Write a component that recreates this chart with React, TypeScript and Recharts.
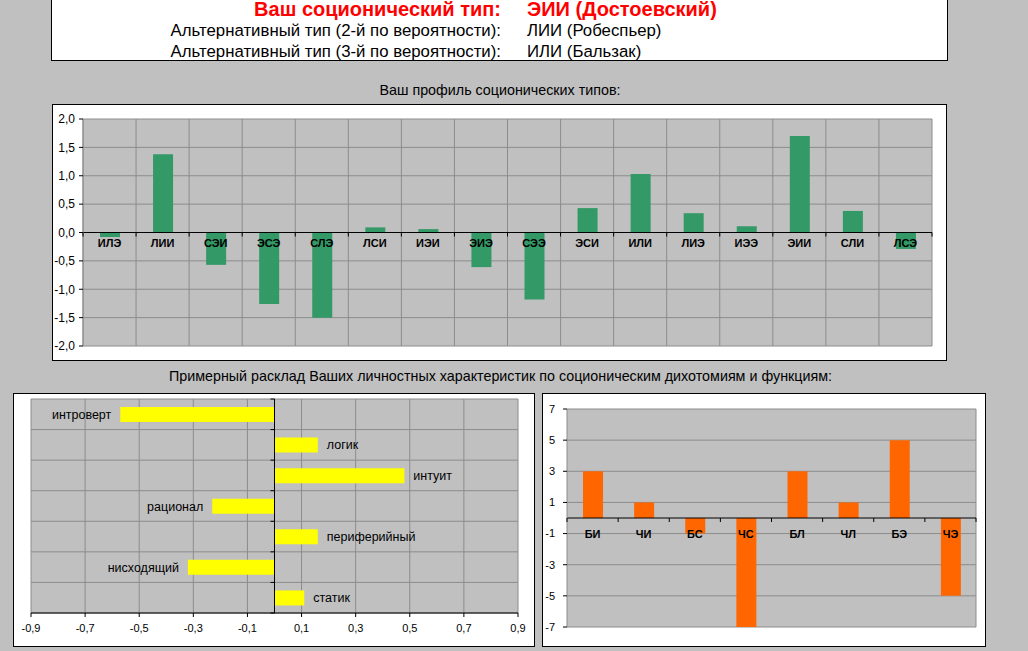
import React from 'react';
import { BarChart, Bar, XAxis, YAxis, CartesianGrid, ReferenceLine, LabelList } from 'recharts';

const FONT = '"Liberation Sans", Arial, sans-serif';

const typeNames = ['ИЛЭ', 'ЛИИ', 'СЭИ', 'ЭСЭ', 'СЛЭ', 'ЛСИ', 'ИЭИ', 'ЭИЭ', 'СЭЭ', 'ЭСИ', 'ИЛИ', 'ЛИЭ', 'ИЭЭ', 'ЭИИ', 'СЛИ', 'ЛСЭ'];
const typeScores = [-0.08, 1.38, -0.57, -1.26, -1.5, 0.09, 0.06, -0.61, -1.18, 0.43, 1.03, 0.34, 0.11, 1.7, 0.38, -0.29];
const profileTicks = [-2, -1.5, -1, -0.5, 0, 0.5, 1, 1.5, 2];

const traitNames = ['интроверт', 'логик', 'интуит', 'рационал', 'периферийный', 'нисходящий', 'статик'];
const traitScores = [-0.57, 0.16, 0.48, -0.23, 0.16, -0.32, 0.11];
const traitTicks = [-0.9, -0.7, -0.5, -0.3, -0.1, 0.1, 0.3, 0.5, 0.7, 0.9];

const functionNames = ['БИ', 'ЧИ', 'БС', 'ЧС', 'БЛ', 'ЧЛ', 'БЭ', 'ЧЭ'];
const functionScores = [3, 1, -1, -7, 3, 1, 5, -5];
const functionTicks = [-7, -5, -3, -1, 1, 3, 5, 7];

const headerRows = [
  { label: 'Ваш соционический тип:', value: 'ЭИИ (Достоевский)' },
  { label: 'Альтернативный тип (2-й по вероятности):', value: 'ЛИИ (Робеспьер)' },
  { label: 'Альтернативный тип (3-й по вероятности):', value: 'ИЛИ (Бальзак)' },
];

const profileData = typeNames.map((name, i) => ({ name, score: typeScores[i] }));
const traitData = traitNames.map((name, i) => ({ name, score: traitScores[i] }));
const functionData = functionNames.map((name, i) => ({ name, score: functionScores[i] }));

const comma = (v: number) => v.toFixed(1).replace('.', ',');
const GRID = '#8c8c8c';

// category labels sit on the zero line, with small ticks at band edges
const zeroLineTick = (zeroY: number, bandW: number, count: number, dy: number) => (props: any) => {
  const { x, payload, index } = props;
  return (
    <g>
      <line x1={x - bandW / 2} x2={x - bandW / 2} y1={zeroY} y2={zeroY + 4} stroke="#000" />
      {index === count - 1 && (
        <line x1={x + bandW / 2} x2={x + bandW / 2} y1={zeroY} y2={zeroY + 4} stroke="#000" />
      )}
      <text x={x} y={zeroY + dy} textAnchor="middle" fontSize={11} fontWeight="bold" fill="#000" fontFamily={FONT}>
        {payload.value}
      </text>
    </g>
  );
};

const ProfileChart = () => {
  const margin = { top: 15, right: 14, bottom: 13, left: 0 };
  const w = 894, h = 256, yW = 31, xH = 1;
  const plotW = w - margin.right - yW;
  const plotH = h - margin.top - margin.bottom - xH;
  const zeroY = margin.top + plotH / 2;
  return (
    <BarChart width={w} height={h} data={profileData} margin={margin} barCategoryGap={0}>
      <CartesianGrid
        stroke={GRID}
        fill="#c0c0c0"
        fillOpacity={1}
        verticalCoordinatesGenerator={({ offset }: any) =>
          typeNames.map((_, i) => offset.left + (i * offset.width) / typeNames.length).concat(offset.left + offset.width)
        }
      />
      <YAxis
        width={yW}
        domain={[-2, 2]}
        ticks={profileTicks}
        interval={0}
        tickFormatter={comma}
        axisLine={{ stroke: GRID }}
        tickLine={{ stroke: '#000' }}
        tickSize={4}
        tickMargin={4}
        tick={{ fontSize: 12, fill: '#000', fontFamily: FONT }}
      />
      <Bar dataKey="score" fill="#339966" barSize={20} isAnimationActive={false} />
      <ReferenceLine y={0} stroke="#000" />
      <XAxis
        dataKey="name"
        height={xH}
        interval={0}
        axisLine={false}
        tickLine={false}
        tick={zeroLineTick(zeroY, plotW / typeNames.length, typeNames.length, 14)}
      />
    </BarChart>
  );
};

const TraitChart = () => {
  const margin = { top: 6, right: 16, bottom: 8, left: 17 };
  const w = 521, h = 253, xH = 25, yW = 1;
  const plotW = w - margin.left - yW - margin.right;
  const plotH = h - margin.top - margin.bottom - xH;
  const zeroX = margin.left + yW + plotW / 2;
  const bandH = plotH / traitNames.length;

  const renderLabel = (props: any) => {
    const vb = props.viewBox || props;
    const { x, y, width, height } = vb;
    const name = props.value;
    const v = traitScores[traitNames.indexOf(name)];
    const left = Math.min(x, x + width);
    const right = Math.max(x, x + width);
    const cy = y + height / 2;
    return v < 0 ? (
      <text x={left - 9} y={cy} dy="0.35em" textAnchor="end" fontSize={12.5} fill="#000" fontFamily={FONT}>{name}</text>
    ) : (
      <text x={right + 9} y={cy} dy="0.35em" textAnchor="start" fontSize={12.5} fill="#000" fontFamily={FONT}>{name}</text>
    );
  };

  const zeroTick = (props: any) => {
    const { y, index } = props;
    return (
      <g>
        <line x1={zeroX - 4} x2={zeroX} y1={y - bandH / 2} y2={y - bandH / 2} stroke="#000" />
        {index === traitNames.length - 1 && (
          <line x1={zeroX - 4} x2={zeroX} y1={y + bandH / 2} y2={y + bandH / 2} stroke="#000" />
        )}
      </g>
    );
  };

  return (
    <BarChart width={w} height={h} data={traitData} layout="vertical" margin={margin} barCategoryGap={0}>
      <CartesianGrid
        stroke={GRID}
        fill="#c0c0c0"
        fillOpacity={1}
        horizontalCoordinatesGenerator={({ offset }: any) =>
          traitNames.map((_, i) => offset.top + (i * offset.height) / traitNames.length).concat(offset.top + offset.height)
        }
      />
      <XAxis
        type="number"
        domain={[-0.9, 0.9]}
        ticks={traitTicks}
        interval={0}
        height={xH}
        tickFormatter={comma}
        axisLine={{ stroke: '#000' }}
        tickLine={{ stroke: '#000' }}
        tickSize={4}
        tickMargin={7}
        tick={{ fontSize: 11, fill: '#000', fontFamily: FONT }}
      />
      <Bar dataKey="score" fill="#ffff00" barSize={15} isAnimationActive={false}>
        <LabelList dataKey="name" content={renderLabel} />
      </Bar>
      <ReferenceLine x={0} stroke="#000" />
      <YAxis type="category" dataKey="name" width={yW} interval={0} axisLine={false} tickLine={false} tick={zeroTick} />
    </BarChart>
  );
};

const FunctionChart = () => {
  const margin = { top: 16, right: 9, bottom: 18, left: 0 };
  const w = 443, h = 253, yW = 25, xH = 1;
  const plotW = w - margin.right - yW;
  const plotH = h - margin.top - margin.bottom - xH;
  const zeroY = margin.top + plotH / 2;
  return (
    <BarChart width={w} height={h} data={functionData} margin={margin} barCategoryGap={0}>
      <CartesianGrid
        stroke={GRID}
        fill="#c0c0c0"
        fillOpacity={1}
        verticalCoordinatesGenerator={({ offset }: any) => [offset.left + offset.width]}
      />
      <YAxis
        width={yW}
        domain={[-7, 7]}
        ticks={functionTicks}
        interval={0}
        axisLine={{ stroke: GRID }}
        tickLine={{ stroke: '#000' }}
        tickSize={4}
        tickMargin={8}
        tick={{ fontSize: 11, fill: '#000', fontFamily: FONT }}
      />
      <Bar dataKey="score" fill="#ff6600" barSize={20} isAnimationActive={false} />
      <ReferenceLine y={0} stroke="#000" />
      <XAxis
        dataKey="name"
        height={xH}
        interval={0}
        axisLine={false}
        tickLine={false}
        tick={zeroLineTick(zeroY, plotW / functionNames.length, functionNames.length, 20)}
      />
    </BarChart>
  );
};

const box = (left: number, top: number, width: number, height: number): React.CSSProperties => ({
  position: 'absolute',
  left,
  top,
  width,
  height,
  background: '#fff',
  border: '1px solid #000',
  boxSizing: 'border-box',
});

const abs = (left: number, top: number): React.CSSProperties => ({ position: 'absolute', left, top });

export default function App() {
  const rowTops = [0, 20, 41];
  return (
    <div style={{ position: 'fixed', left: 0, top: 0, width: 1028, height: 651, background: '#c0c0c0', overflow: 'hidden', fontFamily: FONT }}>
      <div style={box(51, -2, 897, 63)} />
      {headerRows.map((r, i) => {
        const first = i === 0;
        const style: React.CSSProperties = {
          position: 'absolute',
          top: rowTops[i],
          height: first ? 19 : 21,
          lineHeight: first ? '19px' : '21px',
          whiteSpace: 'nowrap',
          fontSize: first ? 20 : 16.8,
          fontWeight: first ? 'bold' : 'normal',
          color: first ? '#ff0000' : '#000',
        };
        return (
          <React.Fragment key={r.label}>
            <div style={{ ...style, right: 1028 - 501, textAlign: 'right' }}>{r.label}</div>
            <div style={{ ...style, left: 527 }}>{r.value}</div>
          </React.Fragment>
        );
      })}

      <div style={{ position: 'absolute', left: 0, width: 1000, top: 81, textAlign: 'center', fontSize: 14.3, lineHeight: '18px' }}>
        Ваш профиль соционических типов:
      </div>
      <div style={box(52, 104, 895, 257)} />
      <div style={abs(52, 104)}>
        <ProfileChart />
      </div>

      <div style={{ position: 'absolute', left: 0, width: 1001, top: 367, textAlign: 'center', fontSize: 14.3, lineHeight: '18px' }}>
        Примерный расклад Ваших личностных характеристик по соционическим дихотомиям и функциям:
      </div>

      <div style={box(13, 393, 522, 254)} />
      <div style={abs(13, 393)}>
        <TraitChart />
      </div>

      <div style={box(542, 393, 444, 254)} />
      <div style={abs(542, 393)}>
        <FunctionChart />
      </div>
    </div>
  );
}
